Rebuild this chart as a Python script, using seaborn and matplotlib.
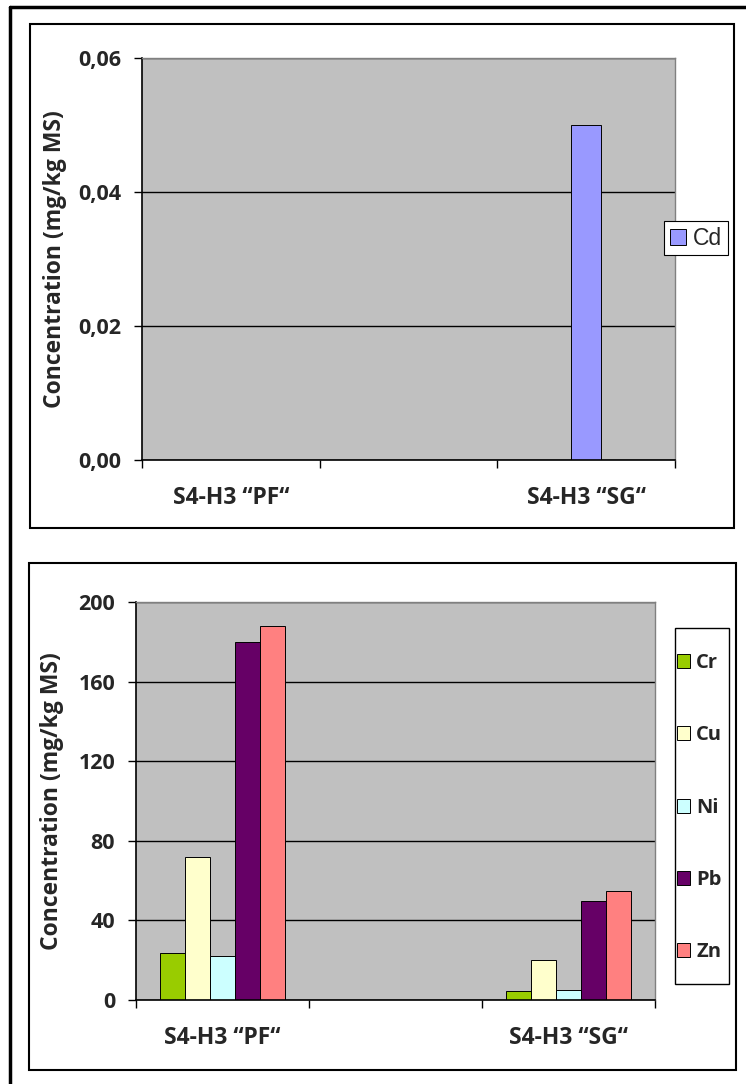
import matplotlib
matplotlib.use("Agg")
import matplotlib.pyplot as plt
from matplotlib.patches import Rectangle, Patch
from matplotlib.lines import Line2D
import numpy as np
import pandas as pd
import seaborn as sns

# --- data ---
samples = ["S4-H3 \u201cPF\u201c", "", "S4-H3 \u201cSG\u201c"]

cd_samples = ["S4-H3 \u201cSG\u201c"]
cd_values = [0.05]
cd_ticks = [0.0, 0.02, 0.04, 0.06]

metals = ["Cr", "Cu", "Ni", "Pb", "Zn"]
pf_values = [23.5, 72, 22, 180, 188]
sg_values = [4.4, 20, 5.2, 50, 55]
metal_ticks = [0, 40, 80, 120, 160, 200]

metal_colors = ["#99CC00", "#FFFFCC", "#CCFFFF", "#660066", "#FF8080"]
cd_color = "#9999FF"

sns.set_style("white")
plt.rcParams["font.family"] = ["Open Sans", "DejaVu Sans"]

W, H = 746, 1084
fig = plt.figure(figsize=(W / 100, H / 100), dpi=100)


def px_axes(left, top, right, bottom):
    return fig.add_axes([left / W, 1 - bottom / H, (right - left) / W,
                         (bottom - top) / H])


def px_box(left, top, right, bottom, lw=1.5):
    fig.patches.append(Rectangle((left / W, 1 - bottom / H),
                                 (right - left) / W, (bottom - top) / H,
                                 transform=fig.transFigure, fill=False,
                                 edgecolor="black", lw=lw, zorder=0))


# frames around the two charts and the page
px_box(30, 24, 734, 528)
px_box(29, 563, 736, 1070)
fig.lines.append(Line2D([10 / W, 1], [1 - 7 / H, 1 - 7 / H],
                        transform=fig.transFigure, color="black", lw=2.5))
fig.lines.append(Line2D([10 / W, 10 / W], [0, 1 - 7 / H],
                        transform=fig.transFigure, color="black", lw=2.5))


def style_axes(ax, ticks, labels):
    ax.set_facecolor("#C0C0C0")
    ax.set_xlim(-0.5, 2.5)
    ax.set_ylim(ticks[0], ticks[-1])
    ax.set_yticks(ticks)
    ax.set_yticklabels(labels, fontsize=15.5, fontweight="bold")
    ax.yaxis.grid(True, color="black", lw=1)
    ax.set_axisbelow(True)
    ax.tick_params(axis="y", direction="out", length=6, width=1,
                   color="black", pad=9, left=True)
    ax.set_xticks([0, 2])
    ax.set_xticklabels([samples[0], samples[2]], fontsize=16.5,
                       fontweight="bold")
    ax.tick_params(axis="x", which="major", length=0, pad=19)
    ax.set_xticks([-0.5, 0.5, 1.5, 2.5], minor=True)
    ax.tick_params(axis="x", which="minor", direction="out", length=6,
                   width=1, color="black", bottom=True)
    for s in ["left", "bottom"]:
        ax.spines[s].set_color("black")
        ax.spines[s].set_linewidth(1.2)
    for s in ["top", "right"]:
        ax.spines[s].set_color("#808080")
        ax.spines[s].set_linewidth(1)
    ax.set_xlabel("")
    ax.set_ylabel("Concentration (mg/kg MS)", fontsize=16.5,
                  fontweight="bold")


# --- top chart: Cd ---
ax1 = px_axes(142, 58, 675, 460)
cd_df = pd.DataFrame({"sample": cd_samples, "value": cd_values})
sns.barplot(data=cd_df, x="sample", y="value", order=samples,
            color=cd_color, saturation=1, width=0.17,
            edgecolor="black", linewidth=0.7, ax=ax1)
style_axes(ax1, cd_ticks, [f"{v:.2f}".replace(".", ",") for v in cd_ticks])
ax1.yaxis.set_label_coords(-0.141, 0.5)

leg1 = fig.legend(handles=[Patch(facecolor=cd_color, edgecolor="black",
                                 lw=0.7, label="Cd")],
                  loc="upper left", bbox_to_anchor=(664 / W, 1 - 221 / H),
                  bbox_transform=fig.transFigure, borderaxespad=0,
                  fancybox=False, framealpha=1, edgecolor="black",
                  handlelength=0.7, handleheight=0.7, handletextpad=0.3,
                  borderpad=0.25, prop={"family": "Liberation Sans",
                                        "size": 16.5})
leg1.get_frame().set_linewidth(0.8)

# --- bottom chart: Cr, Cu, Ni, Pb, Zn ---
ax2 = px_axes(136, 602, 655, 1000)
rows = []
for m, pf, sg in zip(metals, pf_values, sg_values):
    rows.append({"sample": samples[0], "metal": m, "value": pf})
    rows.append({"sample": samples[2], "metal": m, "value": sg})
metal_df = pd.DataFrame(rows)
sns.barplot(data=metal_df, x="sample", y="value", hue="metal",
            order=samples, hue_order=metals,
            palette=dict(zip(metals, metal_colors)), saturation=1,
            width=0.72, edgecolor="black", linewidth=0.7, legend=False,
            ax=ax2)
style_axes(ax2, metal_ticks, [str(v) for v in metal_ticks])
ax2.yaxis.set_label_coords(-0.139, 0.5)

# legend frame drawn by hand so it can be narrow and tall
px_box(675, 628, 729, 984, lw=1)
handles = [Patch(facecolor=c, edgecolor="black", lw=0.7, label=m)
           for m, c in zip(metals, metal_colors)]
leg2 = fig.legend(handles=handles, loc="upper left",
                  bbox_to_anchor=(677 / W, 1 - 653 / H),
                  bbox_transform=fig.transFigure, borderaxespad=0,
                  frameon=False, handlelength=0.65, handleheight=0.7,
                  handletextpad=0.3, labelspacing=2.6, borderpad=0,
                  prop={"family": "Open Sans", "weight": "bold",
                        "size": 14.5})

fig.savefig("out.png", dpi=100)
